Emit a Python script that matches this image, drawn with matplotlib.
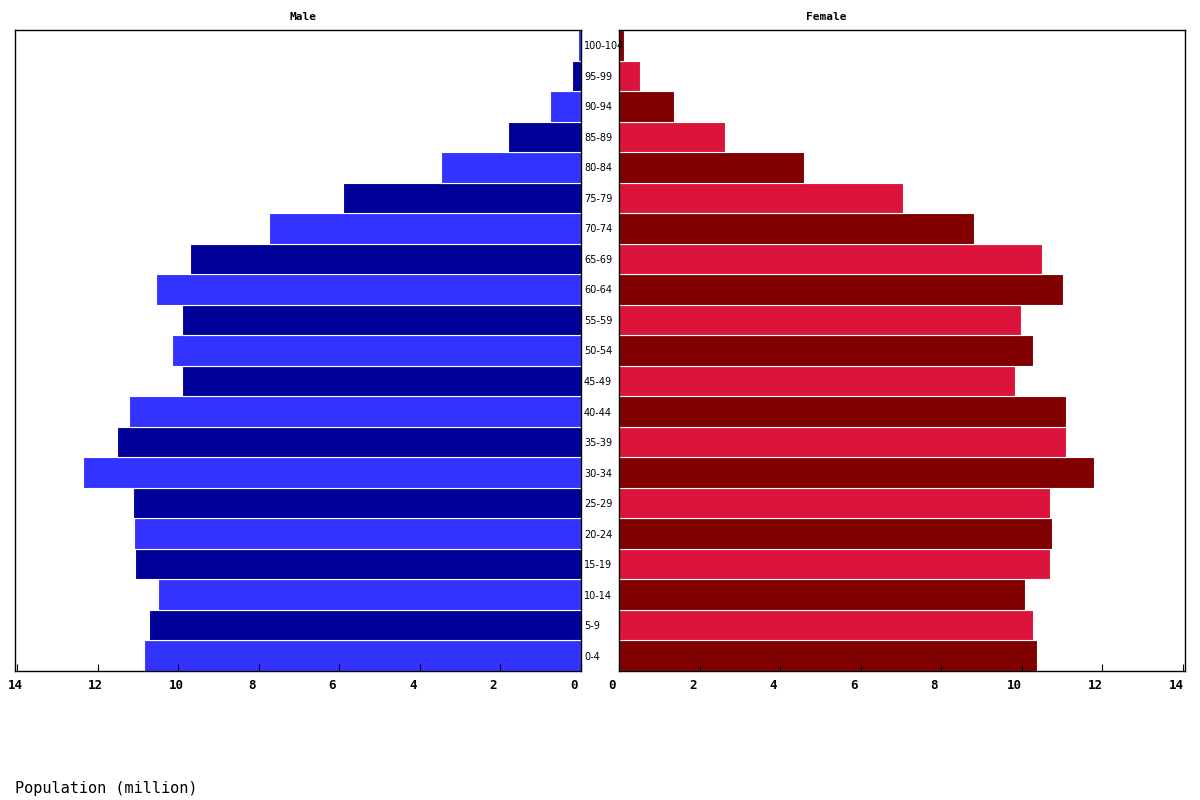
import numpy as np
import matplotlib.pyplot as plt
from matplotlib.transforms import ScaledTranslation

ages = ['0-4', '5-9', '10-14', '15-19', '20-24', '25-29', '30-34', '35-39',
        '40-44', '45-49', '50-54', '55-59', '60-64', '65-69', '70-74', '75-79',
        '80-84', '85-89', '90-94', '95-99', '100-104']
male = [10.84, 10.72, 10.50, 11.07, 11.09, 11.12, 12.36, 11.51, 11.22, 9.90,
        10.15, 9.90, 10.55, 9.70, 7.74, 5.91, 3.47, 1.81, 0.77, 0.22, 0.07]
female = [10.37, 10.27, 10.07, 10.69, 10.74, 10.69, 11.79, 11.09, 11.09, 9.83,
          10.27, 9.98, 11.02, 10.50, 8.81, 7.05, 4.59, 2.63, 1.36, 0.52, 0.12]

male_cols = ['#3333ff' if i % 2 == 0 else '#000099' for i in range(len(ages))]
female_cols = ['#800000' if i % 2 == 0 else '#dc143c' for i in range(len(ages))]

mono = 'DejaVu Sans Mono'
fig = plt.figure(figsize=(12, 8), dpi=100)
axl = fig.add_axes([15/1200, 129/800, 566/1200, 641/800])
axr = fig.add_axes([619/1200, 129/800, 566/1200, 641/800])

y = np.arange(len(ages))
axl.barh(y, male, height=1.0, color=male_cols, edgecolor='white', linewidth=0.8)
axr.barh(y, female, height=1.0, color=female_cols, edgecolor='white', linewidth=0.8)

axl.set_xlim(14.05, 0)
axr.set_xlim(0, 14.05)
ticks = np.arange(0, 15, 2)
for ax in (axl, axr):
    ax.set_ylim(-0.5, len(ages) - 0.5)
    ax.set_yticks([])
    ax.set_xticks(ticks)
    ax.set_xticklabels([str(t) for t in ticks], fontfamily=mono,
                       fontweight='bold', fontsize=9)
    ax.tick_params(axis='x', direction='in', length=5, pad=6)
    for t, lab in zip(ticks, ax.get_xticklabels()):
        dx = -2 if (ax is axl and t >= 10) else -7
        lab.set_transform(lab.get_transform()
                          + ScaledTranslation(dx/100, 0, fig.dpi_scale_trans))
    for s in ax.spines.values():
        s.set_linewidth(1.0)

fig.text(303/1200, 1 - 17/800, 'Male', fontfamily=mono, fontweight='bold',
         fontsize=8, ha='center', va='center')
fig.text(826/1200, 1 - 17/800, 'Female', fontfamily=mono, fontweight='bold',
         fontsize=8, ha='center', va='center')

for i, a in enumerate(ages):
    fig.text(584/1200, axl.transData.transform((0, i))[1] / 800 - 1/800, a,
             fontfamily='DejaVu Sans', fontsize=7, va='center', ha='left')

fig.text(15/1200, 12/800, 'Population (million)', fontfamily=mono,
         fontsize=11, ha='left', va='center')

fig.savefig('out.png', dpi=100)
